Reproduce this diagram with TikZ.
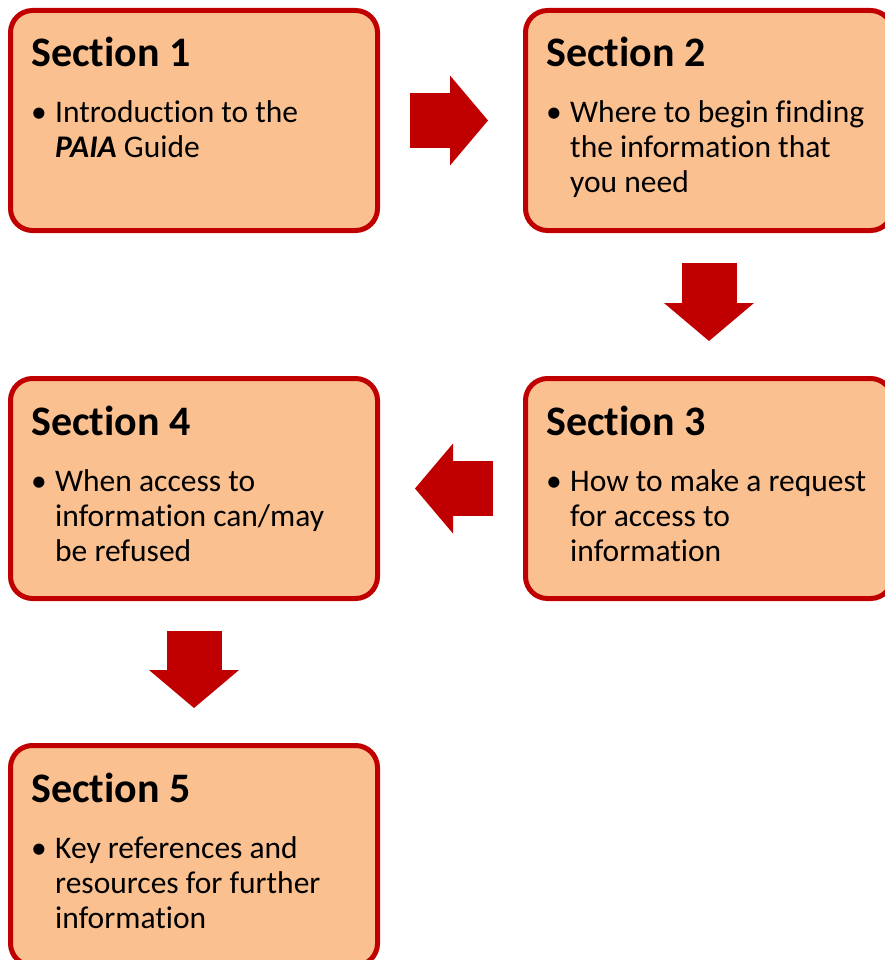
\documentclass[tikz,border=0pt]{standalone}
\usepackage{fontspec}
\setmainfont{Carlito}[Ligatures=CommonOff]
\usetikzlibrary{arrows.meta,calc}
\definecolor{boxred}{HTML}{C00000}
\definecolor{boxfill}{HTML}{FAC090}
\tikzset{
  sectionbox/.style={draw=boxred,fill=boxfill,line width=5pt,rounded corners=22pt,minimum width=367pt,minimum height=220pt,inner sep=0pt,anchor=north west},
  sectiontitle/.style={anchor=base west,inner sep=0pt,font=\fontsize{42}{50}\selectfont\bfseries},
  sectiontext/.style={anchor=base west,inner sep=0pt,font=\fontsize{31.5}{35}\selectfont},
  blockarrow/.style={draw=boxred,line width=55pt,-{Triangle[width=90pt,length=38pt,line width=0pt]},shorten <=30pt,shorten >=35pt}
}
\newcommand{\bulletlines}[1]{\begin{tabular}[t]{@{}p{24pt}@{}l@{}}\textbullet & #1\end{tabular}}
\begin{document}
\begin{tikzpicture}[x=1pt,y=-1pt]
\useasboundingbox (0,0) rectangle (885,960);
\node [sectionbox] (s1) at (8,8) {};
\node [sectionbox] (s2) at (523,8) {};
\node [sectionbox] (s3) at (523,376) {};
\node [sectionbox] (s4) at (8,376) {};
\node [sectionbox] (s5) at (8,743) {};
\node [sectiontitle] (s1title) at ($(s1.north west)+(23,59)$) {Section 1};
\node [sectiontitle] (s2title) at ($(s2.north west)+(23,59)$) {Section 2};
\node [sectiontitle] (s3title) at ($(s3.north west)+(23,59)$) {Section 3};
\node [sectiontitle] (s4title) at ($(s4.north west)+(23,59)$) {Section 4};
\node [sectiontitle] (s5title) at ($(s5.north west)+(23,59)$) {Section 5};
\node [sectiontext] (s1text) at ($(s1.north west)+(23,115)$) {\bulletlines{Introduction to the\\ & \textbf{\textit{PAIA}} Guide}};
\node [sectiontext] (s2text) at ($(s2.north west)+(23,115)$) {\bulletlines{Where to begin finding\\ & the information that\\ & you need}};
\node [sectiontext] (s3text) at ($(s3.north west)+(23,115)$) {\bulletlines{How to make a request\\ & for access to\\ & information}};
\node [sectiontext] (s4text) at ($(s4.north west)+(23,115)$) {\bulletlines{When access to\\ & information can/may\\ & be refused}};
\node [sectiontext] (s5text) at ($(s5.north west)+(23,115)$) {\bulletlines{Key references and\\ & resources for further\\ & information}};
\draw [blockarrow] (s1) -- (s2);
\draw [blockarrow] (s2) -- (s3);
\draw [blockarrow] (s3) -- (s4);
\draw [blockarrow] (s4) -- (s5);
\end{tikzpicture}
\end{document}
